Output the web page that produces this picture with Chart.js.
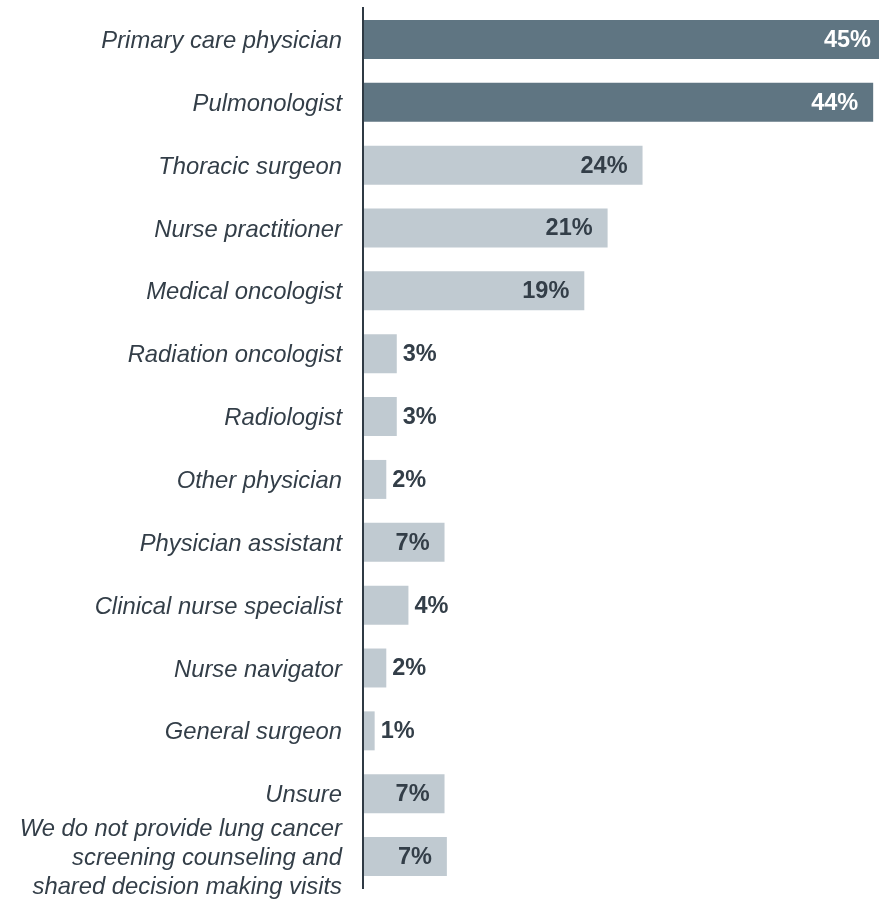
<!DOCTYPE html>
<html>
<head>
<meta charset="utf-8">
<style>
	body {
		margin: 0;
		background: #fff;
	}
	#wrap {
		width: 879px;
		height: 903px;
	}
</style>
<script src="https://cdn.jsdelivr.net/npm/chart.js@4"></script>
</head>
<body>
<div id="wrap"><canvas id="rolesChart"></canvas></div>
<script type="text/javascript">
	// categories (top to bottom)
	var roles = [
		'Primary care physician',
		'Pulmonologist',
		'Thoracic surgeon',
		'Nurse practitioner',
		'Medical oncologist',
		'Radiation oncologist',
		'Radiologist',
		'Other physician',
		'Physician assistant',
		'Clinical nurse specialist',
		'Nurse navigator',
		'General surgeon',
		'Unsure',
		['We do not provide lung cancer', 'screening counseling and', 'shared decision making visits']
	];
	// share of respondents, %
	var shares = [44.9, 43.8, 24, 21, 19, 2.9, 2.9, 2.0, 7.0, 3.9, 2.0, 1.0, 7.0, 7.2];
	var shareLabels = ['45%', '44%', '24%', '21%', '19%', '3%', '3%', '2%', '7%', '4%', '2%', '1%', '7%', '7%'];
	// top two bars are highlighted
	var highlighted = [true, true, false, false, false, false, false, false, false, false, false, false, false, false];

	var darkBar = '#5f7582';
	var lightBar = '#c0cad1';
	var textColor = '#333e48';

	// value labels: inside the bar end when they fit, else just outside
	var barLabels = {
		id: 'barLabels',
		afterDatasetsDraw: function(chart) {
			var ctx = chart.ctx;
			var meta = chart.getDatasetMeta(0);
			ctx.save();
			ctx.font = 'bold 23.5px "Liberation Sans", Arial, sans-serif';
			ctx.textBaseline = 'middle';
			meta.data.forEach(function(bar, i) {
				var txt = shareLabels[i];
				var w = ctx.measureText(txt).width;
				var barW = bar.x - bar.base;
				if (barW - 15 - w >= 0) {
					ctx.textAlign = 'right';
					ctx.fillStyle = highlighted[i] ? '#ffffff' : textColor;
					ctx.fillText(txt, bar.x - 15, bar.y + 1);
				} else {
					ctx.textAlign = 'left';
					ctx.fillStyle = textColor;
					ctx.fillText(txt, bar.x + 6, bar.y + 1);
				}
			});
			ctx.restore();
		}
	};

	new Chart(document.getElementById('rolesChart'), {
		type: 'bar',
		data: {
			labels: roles,
			datasets: [{
				data: shares,
				backgroundColor: highlighted.map(function(h) { return h ? darkBar : lightBar; }),
				borderWidth: 0,
				barPercentage: 0.62,
				categoryPercentage: 1
			}]
		},
		options: {
			indexAxis: 'y',
			responsive: true,
			maintainAspectRatio: false,
			animation: false,
			layout: {
				padding: { top: 8, bottom: 15, left: 0, right: 0 }
			},
			plugins: {
				legend: { display: false },
				tooltip: { enabled: false }
			},
			scales: {
				x: {
					display: false,
					min: 0,
					max: 44.3
				},
				y: {
					grid: { display: false, drawTicks: false },
					border: { display: true, color: '#2f3a44', width: 2, z: 1 },
					ticks: {
						autoSkip: false,
						color: textColor,
						padding: 21,
						labelOffset: 2,
						font: { family: '"Liberation Sans", Arial, sans-serif', size: 23.8, style: 'italic', lineHeight: 1.22 }
					},
					afterFit: function(axis) {
						axis.width = 363;
						axis.paddingTop = 0;
						axis.paddingBottom = 0;
					}
				}
			}
		},
		plugins: [barLabels]
	});
</script>
</body>
</html>
